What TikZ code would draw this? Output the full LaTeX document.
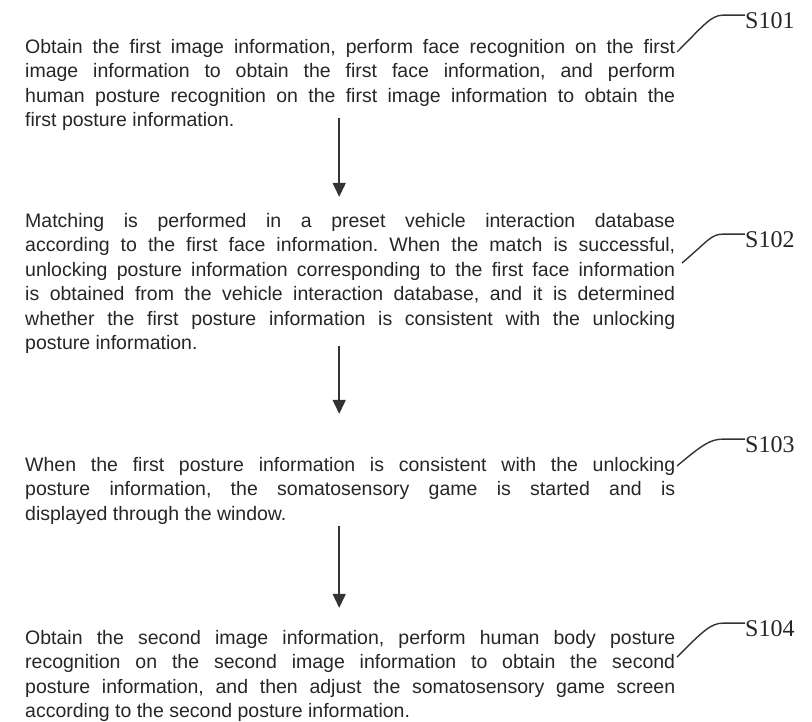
\documentclass[tikz,border=0pt]{standalone}
\usepackage{fontspec}
\setmainfont{Liberation Sans}
\newfontfamily\stepfont{Liberation Serif}
\usetikzlibrary{arrows.meta,positioning}
\hyphenpenalty=10000
\exhyphenpenalty=10000
\frenchspacing

\begin{document}
\begin{tikzpicture}[x=1pt,y=-1pt,
    blocktext/.style={anchor=base west,inner sep=0pt,text width=650pt,align=justify,
      font=\fontsize{19.5}{24.5}\selectfont,text=black!85},
    steplabel/.style={anchor=base west,inner sep=0pt,font=\stepfont\fontsize{24}{24}\selectfont,text=black!85},
    flow/.style={-{Triangle[width=13pt,length=14pt]},line width=1.5pt,black!80},
    leader/.style={line width=1.4pt,black!80}]
  \useasboundingbox (0,0) rectangle (812,721);

  % step texts
  \node[blocktext] (b1) at (25,53) {Obtain the first image information, perform face recognition on the first\linebreak image information to obtain the first face information, and perform\linebreak human posture recognition on the first image information to obtain the\linebreak first posture information.};
  \node[blocktext] (b2) at (25,227) {Matching is performed in a preset vehicle interaction database\linebreak according to the first face information. When the match is successful,\linebreak unlocking posture information corresponding to the first face information\linebreak is obtained from the vehicle interaction database, and it is determined\linebreak whether the first posture information is consistent with the unlocking\linebreak posture information.};
  \node[blocktext] (b3) at (25,471) {When the first posture information is consistent with the unlocking\linebreak posture information, the somatosensory game is started and is\linebreak displayed through the window.};
  \node[blocktext] (b4) at (25,644) {Obtain the second image information, perform human body posture\linebreak recognition on the second image information to obtain the second\linebreak posture information, and then adjust the somatosensory game screen\linebreak according to the second posture information.};

  % step labels
  \node[steplabel] (s101) at (745,28) {S101};
  \node[steplabel] (s102) at (745,247) {S102};
  \node[steplabel] (s103) at (745,452) {S103};
  \node[steplabel] (s104) at (745,636) {S104};

  % leader ends
  \coordinate (t1) at (677,52);
  \coordinate (t2) at (682,263);
  \coordinate (t3) at (677,466);
  \coordinate (t4) at (677,657);

  \draw[leader] (t1) .. controls +(26,-26) and +(-12,0) .. ([xshift=-22pt,yshift=5pt]s101.west) -- ([yshift=5pt]s101.west);
  \draw[leader] (t2) .. controls +(26,-22) and +(-12,0) .. ([xshift=-22pt,yshift=5pt]s102.west) -- ([yshift=5pt]s102.west);
  \draw[leader] (t3) .. controls +(26,-22) and +(-12,0) .. ([xshift=-22pt,yshift=5pt]s103.west) -- ([yshift=5pt]s103.west);
  \draw[leader] (t4) .. controls +(26,-26) and +(-12,0) .. ([xshift=-22pt,yshift=5pt]s104.west) -- ([yshift=5pt]s104.west);

  % flow
  \draw[flow] ([xshift=-11pt,yshift=12.6pt]b1.south) -- ([xshift=-11pt,yshift=15.8pt]b2.north);
  \draw[flow] ([xshift=-11pt,yshift=7.6pt]b2.south) -- ([xshift=-11pt,yshift=42.8pt]b3.north);
  \draw[flow] ([xshift=-11pt,yshift=-1.9pt]b3.south) -- ([xshift=-11pt,yshift=21.8pt]b4.north);
\end{tikzpicture}
\end{document}
